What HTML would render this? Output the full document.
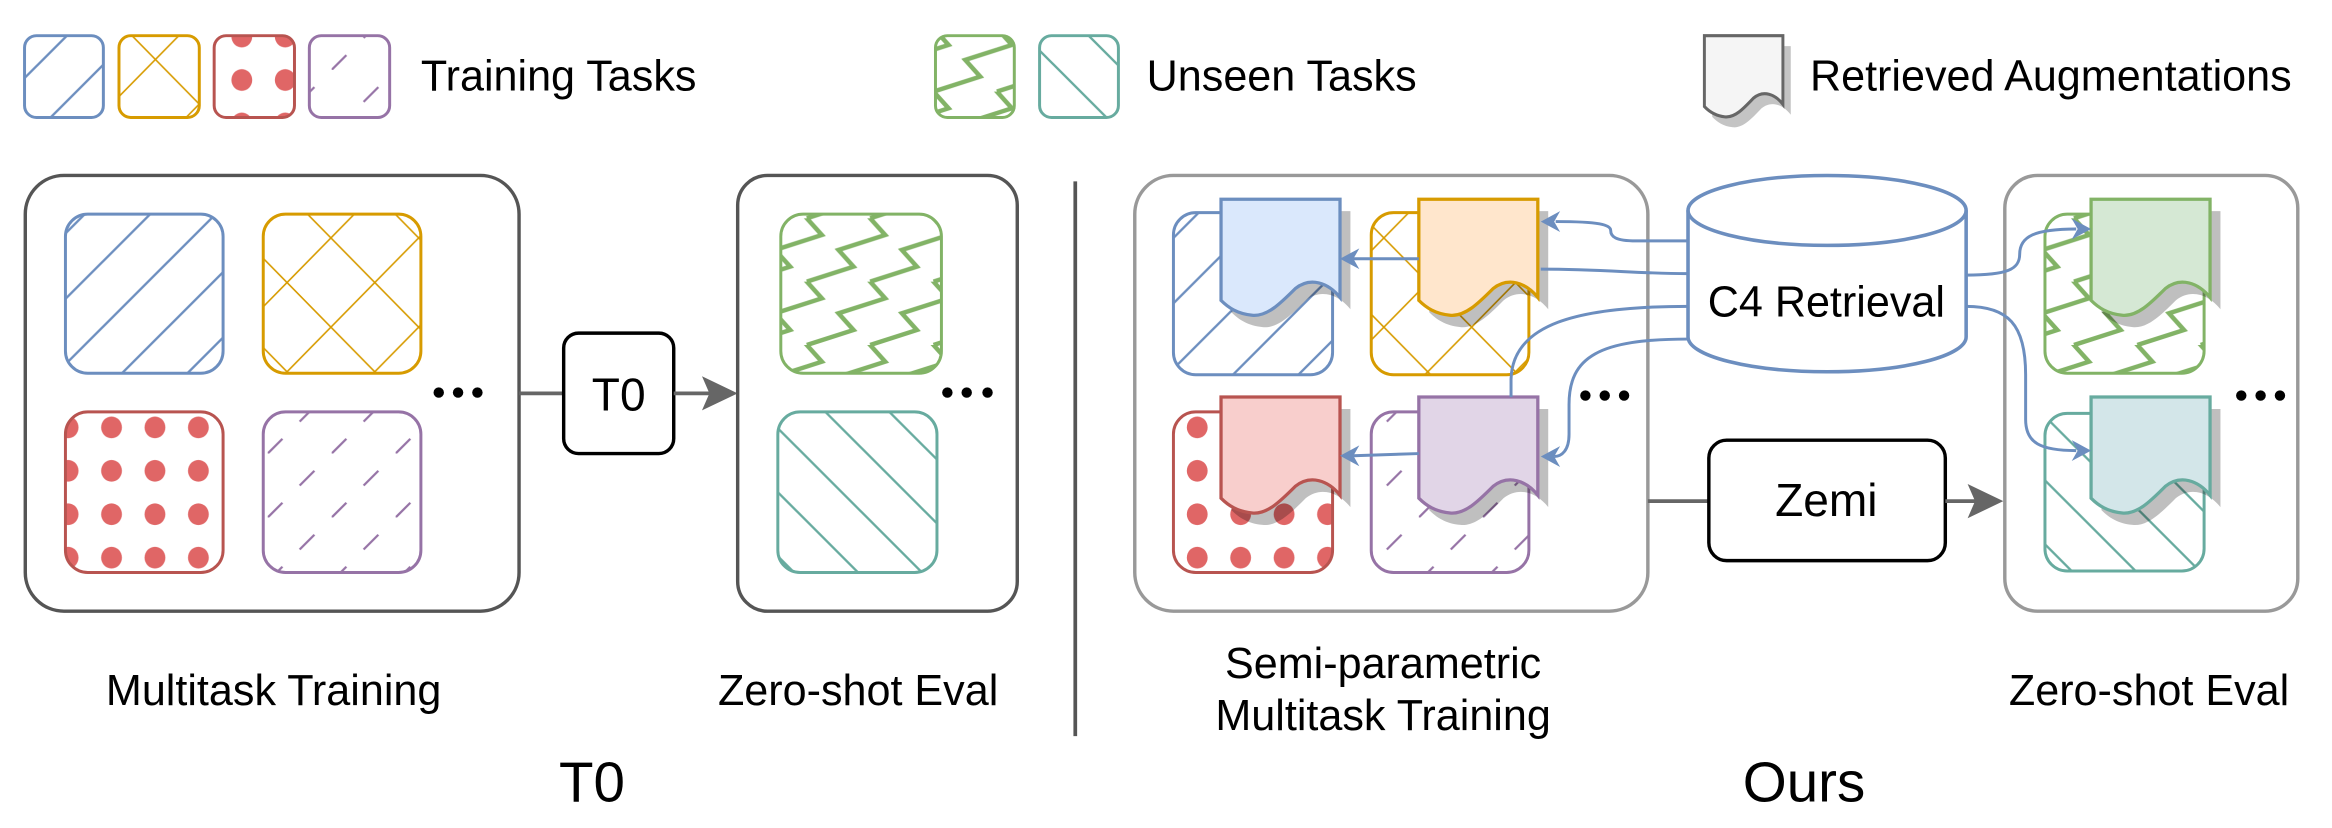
<!DOCTYPE html>
<html><head><meta charset="utf-8"><style>
html,body{margin:0;padding:0;background:#fff;}
svg{display:block;}
text{font-family:"Liberation Sans",Arial,sans-serif;fill:#000;}
</style></head><body>
<svg width="2332" height="828" viewBox="0 0 1568 556.8" preserveAspectRatio="none" xmlns="http://www.w3.org/2000/svg">
<defs>
  <pattern id="pBlue" patternUnits="userSpaceOnUse" width="44" height="44" patternTransform="translate(25,0)">
    <path d="M-4,4 L4,-4 M0,44 L44,0 M40,48 L48,40" stroke="#6c8ebf" stroke-width="1.6"/>
  </pattern>
  <pattern id="pTeal" patternUnits="userSpaceOnUse" width="43" height="43" patternTransform="translate(20,0)">
    <path d="M-4,39 L4,47 M0,0 L43,43 M39,-4 L47,4" stroke="#67ab9f" stroke-width="1.6"/>
  </pattern>
  <pattern id="pOrange" patternUnits="userSpaceOnUse" width="59" height="60" patternTransform="translate(16,10)">
    <path d="M0,0 L59,60 M59,0 L0,60" stroke="#d79b00" stroke-width="1.1"/>
  </pattern>
  <pattern id="pRed" patternUnits="userSpaceOnUse" width="29.2" height="29.2" patternTransform="translate(2,10)">
    <ellipse cx="14.6" cy="14.6" rx="7" ry="7.3" fill="#e06666"/>
  </pattern>
  <pattern id="pPurple" patternUnits="userSpaceOnUse" width="43" height="43" patternTransform="translate(8,4)">
    <path d="M0,43 L43,0" stroke="#9673a6" stroke-width="1.5" stroke-dasharray="14 16.4"/>
  </pattern>
  <pattern id="pGreen" patternUnits="userSpaceOnUse" width="42.6" height="42.6" patternTransform="translate(542.5,146.8)">
    <g fill="none" stroke="#82b366" stroke-width="3" stroke-linejoin="miter">
      <polyline points="0,42.6 31.4,32.5 21.3,21.3 52.7,11.2 42.6,0 74,-10.1"/>
      <polyline points="-42.6,42.6 -11.2,32.5 -21.3,21.3 10.1,11.2 0,0 31.4,-10.1"/>
      <polyline points="42.6,42.6 74,32.5 63.9,21.3 95.3,11.2 85.2,0"/>
      <polyline points="-21.3,63.9 10.1,53.8 0,42.6"/>
      <polyline points="21.3,63.9 52.7,53.8 42.6,42.6"/>
    </g>
  </pattern>
  <path id="doc" d="M0,0 H80 V66 C72,56 60,52 50,60 C40,70 31,79 21,78 C11,77 5,73 0,68 Z"/>
</defs>

<!-- Legend -->
<g stroke-width="2">
  <rect x="16.5" y="24" width="53" height="55" rx="8" fill="url(#pBlue)" stroke="#6c8ebf"/>
  <rect x="80" y="24" width="54" height="55" rx="8" fill="url(#pOrange)" stroke="#d79b00"/>
  <rect x="144" y="24" width="54" height="55" rx="8" fill="url(#pRed)" stroke="#b85450"/>
  <rect x="208" y="24" width="54" height="55" rx="8" fill="url(#pPurple)" stroke="#9673a6"/>
  <rect x="629" y="24" width="53" height="55" rx="8" fill="url(#pGreen)" stroke="#82b366"/>
  <rect x="699" y="24" width="53" height="55" rx="8" fill="url(#pTeal)" stroke="#67ab9f"/>
</g>
<text x="283" y="61" font-size="29">Training Tasks</text>
<text x="771" y="61" font-size="29">Unseen Tasks</text>
<g transform="translate(1146,24) scale(0.66,0.7)">
  <use href="#doc" transform="translate(8,10)" fill="#c4c4c4"/>
  <use href="#doc" fill="#f5f5f5" stroke="#666" stroke-width="3"/>
</g>
<text x="1217" y="61" font-size="29">Retrieved Augmentations</text>

<!-- T0 section -->
<rect x="17" y="118" width="332" height="293" rx="26" fill="none" stroke="#555" stroke-width="2.3"/>
<g stroke-width="2">
  <rect x="44" y="144" width="106" height="107" rx="15" fill="url(#pBlue)" stroke="#6c8ebf"/>
  <rect x="177" y="144" width="106" height="107" rx="15" fill="url(#pOrange)" stroke="#d79b00"/>
  <rect x="44" y="277" width="106" height="108" rx="15" fill="url(#pRed)" stroke="#b85450"/>
  <rect x="177" y="277" width="106" height="108" rx="15" fill="url(#pPurple)" stroke="#9673a6"/>
</g>
<g fill="#000"><circle cx="295" cy="264" r="3.5"/><circle cx="308" cy="264" r="3.5"/><circle cx="321" cy="264" r="3.5"/></g>
<line x1="349" y1="264.5" x2="379" y2="264.5" stroke="#666" stroke-width="2.5"/>
<rect x="379" y="224" width="74" height="81" rx="10" fill="#fff" stroke="#000" stroke-width="2.3"/>
<text x="416" y="276" font-size="31" text-anchor="middle">T0</text>
<line x1="453" y1="264.5" x2="478" y2="264.5" stroke="#666" stroke-width="2.5"/>
<polygon points="496,264.5 472,253 477,264.5 472,276" fill="#666"/>

<rect x="496" y="118" width="188" height="293" rx="20" fill="none" stroke="#555" stroke-width="2.3"/>
<g stroke-width="2">
  <rect x="525" y="144" width="108" height="107" rx="15" fill="url(#pGreen)" stroke="#82b366"/>
  <rect x="523" y="277" width="107" height="108" rx="15" fill="url(#pTeal)" stroke="#67ab9f"/>
</g>
<g fill="#000"><circle cx="637" cy="264" r="3.5"/><circle cx="650" cy="264" r="3.5"/><circle cx="664" cy="264" r="3.5"/></g>

<text x="184" y="474" font-size="29" text-anchor="middle">Multitask Training</text>
<text x="577" y="474" font-size="29" text-anchor="middle">Zero-shot Eval</text>
<text x="398" y="539" font-size="38" text-anchor="middle">T0</text>

<line x1="723" y1="122" x2="723" y2="495" stroke="#555" stroke-width="2.5"/>

<!-- Ours section -->
<rect x="763" y="118" width="345" height="293" rx="26" fill="none" stroke="#999" stroke-width="2.3"/>
<g stroke-width="2">
  <rect x="789" y="143" width="107" height="109" rx="15" fill="url(#pBlue)" stroke="#6c8ebf"/>
  <rect x="922" y="143" width="106" height="109" rx="15" fill="url(#pOrange)" stroke="#d79b00"/>
  <rect x="789" y="277" width="107" height="108" rx="15" fill="url(#pRed)" stroke="#b85450"/>
  <rect x="922" y="277" width="106" height="108" rx="15" fill="url(#pPurple)" stroke="#9673a6"/>
</g>
<g fill="rgba(0,0,0,0.25)">
  <use href="#doc" x="828" y="142"/>
  <use href="#doc" x="961" y="142"/>
  <use href="#doc" x="828" y="275"/>
  <use href="#doc" x="961" y="275"/>
</g>
<g stroke-width="2.2">
  <use href="#doc" x="821" y="134" fill="#dae8fc" stroke="#6c8ebf"/>
  <use href="#doc" x="954" y="134" fill="#ffe6cc" stroke="#d79b00"/>
  <use href="#doc" x="821" y="267" fill="#f8cecc" stroke="#b85450"/>
  <use href="#doc" x="954" y="267" fill="#e1d5e7" stroke="#9673a6"/>
</g>
<g fill="#000"><circle cx="1066" cy="266" r="3.5"/><circle cx="1079" cy="266" r="3.5"/><circle cx="1092" cy="266" r="3.5"/></g>

<rect x="1348" y="118" width="197" height="293" rx="22" fill="none" stroke="#999" stroke-width="2.3"/>
<g stroke-width="2">
  <rect x="1375" y="144" width="107" height="107" rx="15" fill="url(#pGreen)" stroke="#82b366"/>
  <rect x="1375" y="278" width="107" height="106" rx="15" fill="url(#pTeal)" stroke="#67ab9f"/>
</g>
<g fill="rgba(0,0,0,0.25)">
  <use href="#doc" x="1413" y="142"/>
  <use href="#doc" x="1413" y="275"/>
</g>
<g stroke-width="2.2">
  <use href="#doc" x="1406" y="134" fill="#d5e8d4" stroke="#82b366"/>
  <use href="#doc" x="1406" y="267" fill="#d3e6e9" stroke="#67ab9f"/>
</g>
<g fill="#000"><circle cx="1507" cy="266" r="3.5"/><circle cx="1520" cy="266" r="3.5"/><circle cx="1533" cy="266" r="3.5"/></g>

<!-- blue connectors -->
<g fill="none" stroke="#6c8ebf" stroke-width="2">
  <path d="M1135,162 L1100,162 C1086,162 1083,159 1083,155 C1083,151 1075,149 1046,149"/>
  <path d="M1135,184 C1100,184 1080,181 1036,181"/>
  <path d="M954,174 L910,174"/>
  <path d="M1135,206 C1060,206 1017,218 1016,255 L1016,267"/>
  <path d="M1135,228 C1075,228 1055,240 1055,272 L1055,292 C1055,303 1050,307 1045,307"/>
  <path d="M954,305 L910,306.5"/>
  <path d="M1322,185 C1350,185 1358,181 1358,171 C1358,159 1368,154 1396,154"/>
  <path d="M1322,206 C1350,206 1362,218 1362,252 L1362,282 C1362,298 1372,303 1396,303"/>
</g>
<g fill="#6c8ebf">
  <polygon points="1036,149 1049,142 1045,149 1049,156"/>
  <polygon points="901,174 914,167 910,174 914,181"/>
  <polygon points="1036,307 1049,300 1045,307 1049,314"/>
  <polygon points="901,306.5 914,299.5 910,306.5 914,313.5"/>
  <polygon points="1406,154 1393,147 1397,154 1393,161"/>
  <polygon points="1406,303 1393,296 1397,303 1393,310"/>
</g>

<!-- cylinder -->
<path d="M1135,141.5 A93.5,23.5 0 0 1 1322,141.5 V226.5 A93.5,23.5 0 0 1 1135,226.5 Z" fill="#fff" stroke="#6c8ebf" stroke-width="2.4"/>
<path d="M1135,141.5 A93.5,23.5 0 0 0 1322,141.5" fill="none" stroke="#6c8ebf" stroke-width="2.4"/>
<text x="1228" y="213" font-size="29" text-anchor="middle">C4 Retrieval</text>

<!-- Zemi -->
<line x1="1108" y1="337" x2="1149" y2="337" stroke="#666" stroke-width="2.5"/>
<rect x="1149" y="296" width="159" height="81" rx="12" fill="#fff" stroke="#000" stroke-width="2.3"/>
<text x="1228" y="347" font-size="31" text-anchor="middle">Zemi</text>
<line x1="1308" y1="337" x2="1330" y2="337" stroke="#666" stroke-width="2.5"/>
<polygon points="1347,337 1323,325.5 1328,337 1323,348.5" fill="#666"/>

<text x="930" y="456" font-size="29" text-anchor="middle">Semi-parametric</text>
<text x="930" y="491" font-size="29" text-anchor="middle">Multitask Training</text>
<text x="1445" y="474" font-size="29" text-anchor="middle">Zero-shot Eval</text>
<text x="1213" y="539" font-size="38" text-anchor="middle">Ours</text>
</svg>
</body></html>
